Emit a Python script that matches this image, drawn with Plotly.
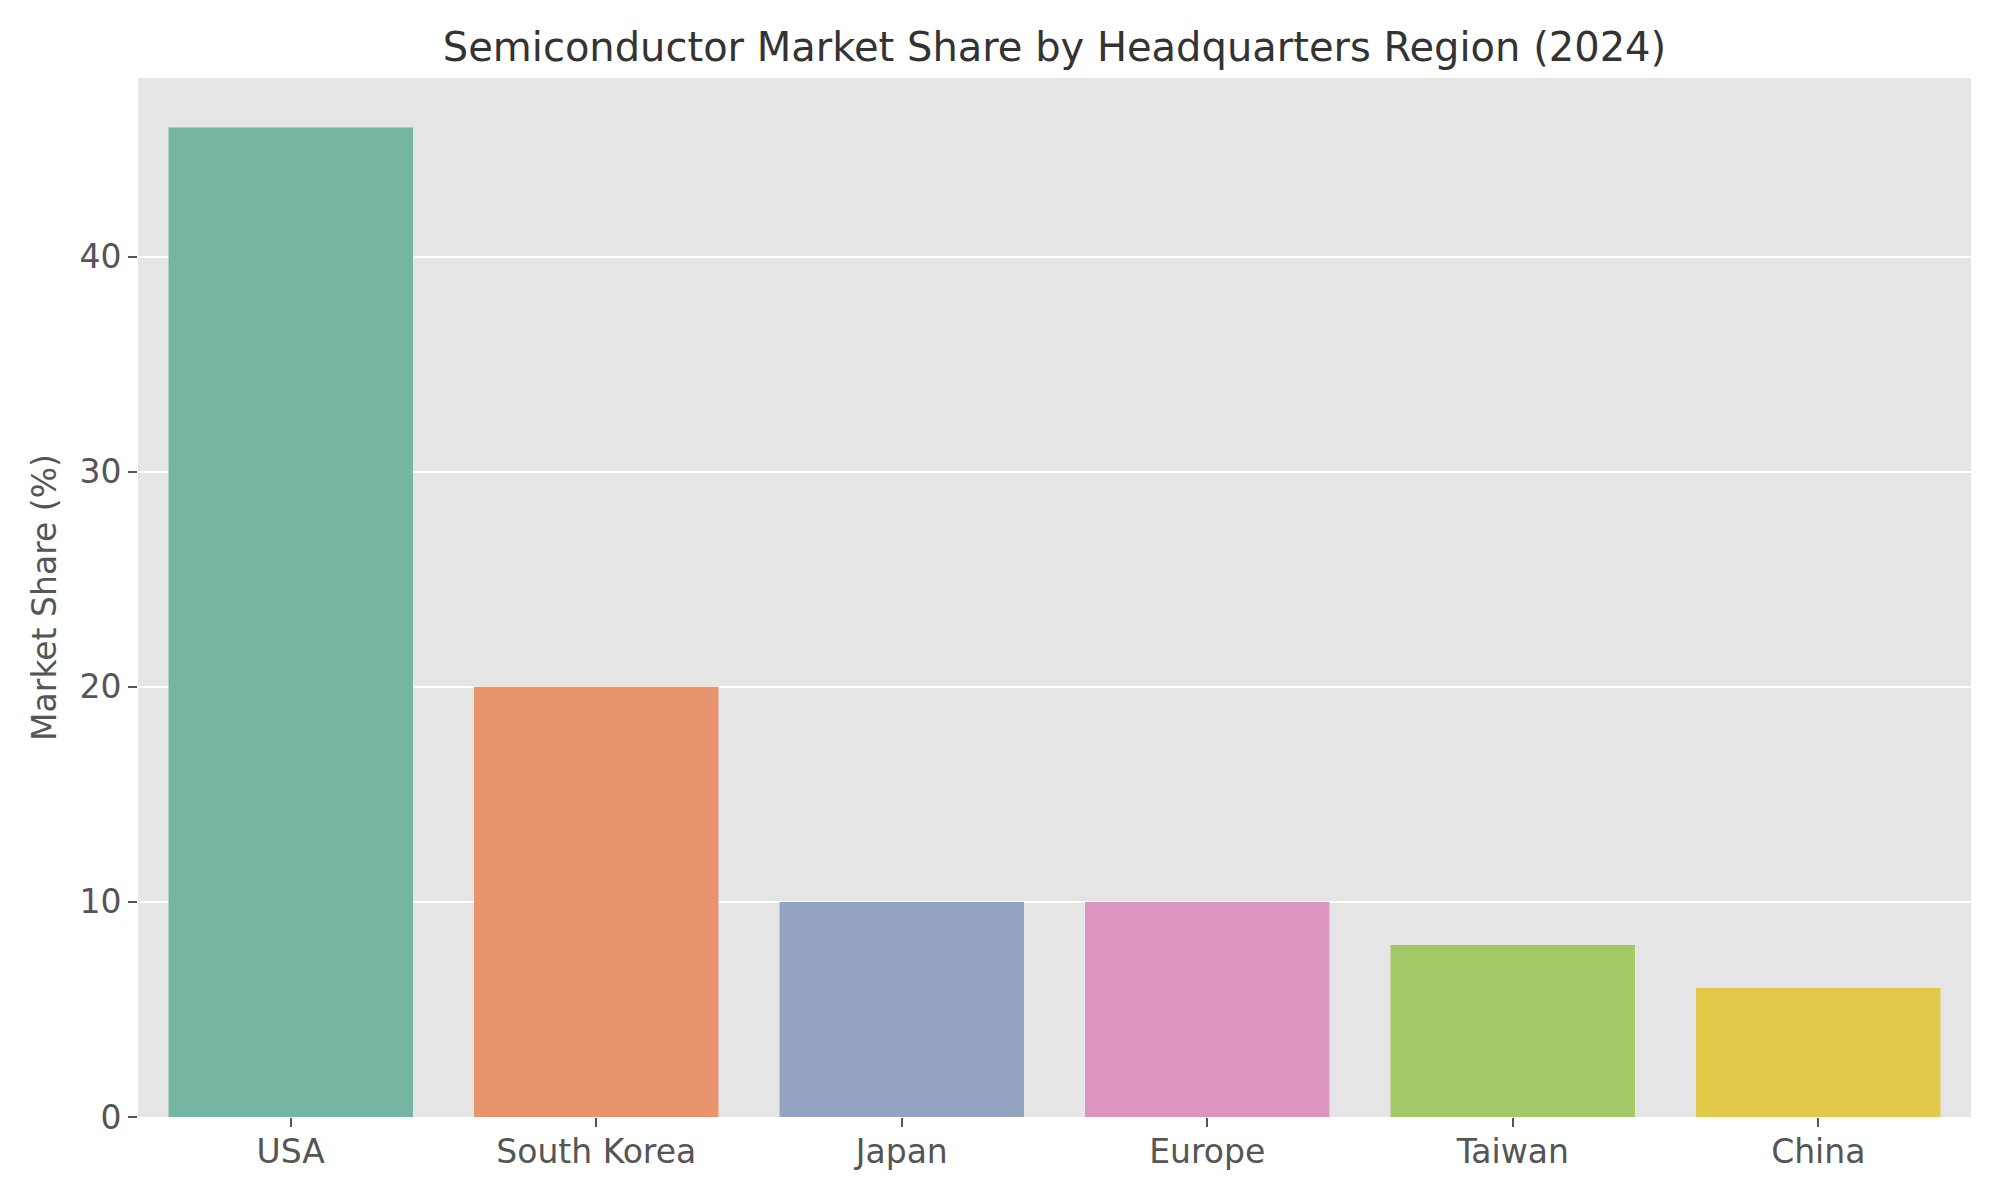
import plotly.graph_objects as go

# data
regions = ["USA", "South Korea", "Japan", "Europe", "Taiwan", "China"]
share = [46, 20, 10, 10, 8, 6]
# seaborn Set2 at reduced saturation
bar_colors = ["#74b4a0", "#e8956f", "#94a3c2", "#dc95bf", "#a3c866", "#e3c94a"]

fig = go.Figure()
fig.add_trace(go.Bar(x=regions, y=share, width=0.8,
                     marker=dict(color=bar_colors, line=dict(width=0)),
                     showlegend=False))

# the page body adds an 8px offset, so margins are shifted to compensate
fig.update_layout(
    width=2000, height=1200,
    paper_bgcolor="white", plot_bgcolor="#e5e5e5",
    font=dict(family="DejaVu Sans", size=33, color="#555555"),
    margin=dict(l=130, r=37, t=70, b=91),
    title=dict(text="Semiconductor Market Share by Headquarters Region (2024)",
               x=0.5, xref="paper", xanchor="center",
               y=1 - 39 / 1200, yref="container", yanchor="middle",
               font=dict(size=40, color="#333333")),
)
fig.update_xaxes(type="category", range=[-0.5, 5.5], showgrid=False,
                 ticks="outside", ticklen=9, tickwidth=2, tickcolor="#555555",
                 ticklabelstandoff=-4,
                 tickfont=dict(size=33, color="#555555"), showline=False,
                 zeroline=False)
fig.update_yaxes(range=[0, 48.3], tickvals=[0, 10, 20, 30, 40],
                 showgrid=True, gridcolor="white", gridwidth=2,
                 ticks="outside", ticklen=9, tickwidth=2, tickcolor="#555555",
                 tickfont=dict(size=33, color="#555555"), zeroline=False,
                 title=dict(text="Market Share (%)", font=dict(size=33, color="#555555"),
                            standoff=12))

fig.write_html("out.html")
